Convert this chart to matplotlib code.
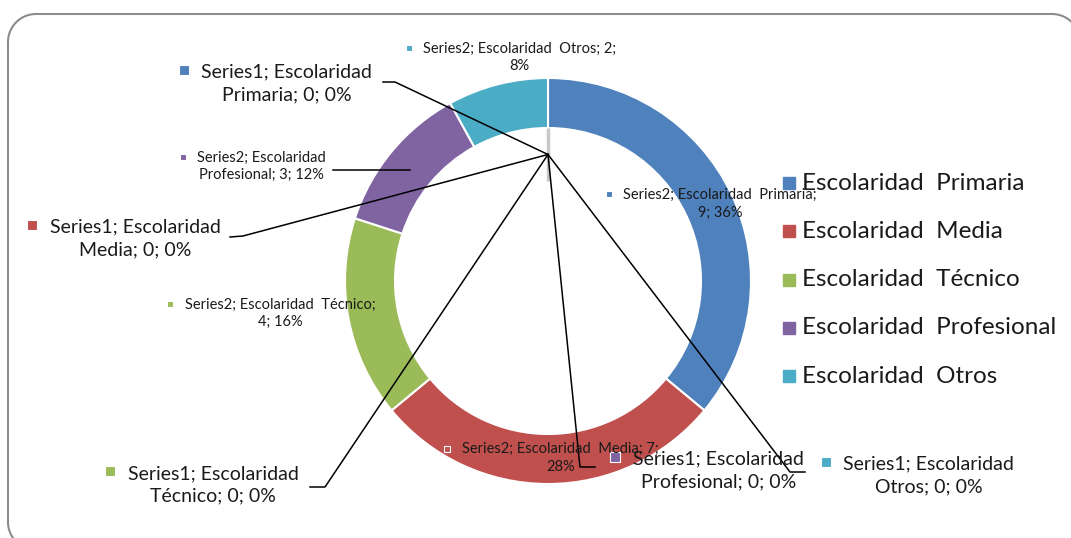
import numpy as np
import matplotlib.pyplot as plt

# datos del grafico
categorias = ['Primaria', 'Media', 'Técnico', 'Profesional', 'Otros']
series1 = [0, 0, 0, 0, 0]
series2 = [9, 7, 4, 3, 2]
colores = ['#4F81BD', '#C0504D', '#9BBB59', '#8064A2', '#4BACC6']

# posiciones de etiquetas (pixeles): cuadro x, cuadro y, x texto, y linea1, y linea2
pos_s1 = {
    'Primaria': (184, 70, 201, 70, 97),
    'Media': (32, 225, 50, 225, 252),
    'Técnico': (110, 471, 128, 471, 499),
    'Profesional': (615, 457, 633, 457, 484),
    'Otros': (826, 462, 843, 462, 489),
}
pos_s2 = {
    'Primaria': (609, 194, 623, 194, 214),
    'Media': (447, 449, 462, 449, 467),
    'Técnico': (170, 304, 185, 304, 323),
    'Profesional': (183, 157, 197, 157, 176),
    'Otros': (409, 48, 423, 48, 67),
}
# donde corta la linea cada etiqueta de Series2 (palabras en la primera linea)
corte_s2 = {'Primaria': 1, 'Media': 2, 'Técnico': 1, 'Profesional': 0, 'Otros': 2}

# colas de las lineas guia
colas_s1 = {
    'Primaria': [(383, 82), (395, 82)],
    'Media': [(230, 237), (243, 236)],
    'Técnico': [(310, 487), (325, 487)],
    'Profesional': [(595, 467), (580, 467)],
    'Otros': [(805, 472), (790, 472)],
}

plt.rcParams['font.family'] = ['Lato', 'DejaVu Sans']

W, H = 1071, 538
fig = plt.figure(figsize=(W / 100, H / 100), dpi=100)
ax = fig.add_axes([0, 0, 1, 1])

cx, cy, r_ext, ancho = 548, 281, 203, 50
r_int = r_ext - ancho

ax.pie(series2, colors=colores, radius=r_ext, center=(cx, cy), startangle=-90,
       counterclock=True, wedgeprops=dict(width=ancho, edgecolor='white', linewidth=1.5))

ax.set_xlim(0, W)
ax.set_ylim(H, 0)
ax.set_aspect('equal')
ax.axis('off')

# serie interior (todos cero): todas las cuñas en el mismo angulo
ang = np.deg2rad(-90 + 360 * np.cumsum([0] + series1[:-1]) / max(sum(series1), 1))
r_in0 = 100
ax.plot([cx + r_in0 * np.cos(ang[0]), cx + r_int * np.cos(ang[0])],
        [cy + r_in0 * np.sin(ang[0]), cy + r_int * np.sin(ang[0])],
        color='#c8c8c8', lw=2.5, solid_capstyle='butt', zorder=1)
r_mid = (r_in0 + r_int) / 2
ax0 = cx + r_mid * np.cos(ang[0])
ay0 = cy + r_mid * np.sin(ang[0])

total2 = sum(series2)
for i, cat in enumerate(categorias):
    # etiquetas Series1
    sx, sy, tx, y1, y2 = pos_s1[cat]
    ax.plot(sx, sy, marker='s', ms=7, color=colores[i], mec='white', mew=0.8, zorder=5)
    txt = f'Series1; Escolaridad\n{cat}; {series1[i]}; 0%'
    ax.text(tx, (y1 + y2) / 2, txt, ha='left', va='center', multialignment='center',
            fontsize=14, linespacing=1.4, color='#1a1a1a', zorder=6)
    (xa, ya), (xb, yb) = colas_s1[cat]
    ax.plot([xa, xb, ax0], [ya, yb, ay0], color='black', lw=1.1, zorder=4)

    # etiquetas Series2
    sx, sy, tx, y1, y2 = pos_s2[cat]
    pct = round(100 * series2[i] / total2)
    partes = [f'{cat};', f'{series2[i]};', f'{pct}%']
    k = corte_s2[cat]
    if k == 0:
        txt = f'Series2; Escolaridad\n' + ' '.join(partes)
    else:
        txt = 'Series2; Escolaridad  ' + ' '.join(partes[:k]) + '\n' + ' '.join(partes[k:])
    ax.plot(sx, sy, marker='s', ms=5, color=colores[i], mec='white', mew=0.8, zorder=5)
    ax.text(tx, (y1 + y2) / 2, txt, ha='left', va='center', multialignment='center',
            fontsize=10.5, linespacing=1.3, color='#1a1a1a', zorder=6)

# linea guia de la etiqueta Profesional (Series2)
ax.plot([333, 410], [170, 170], color='black', lw=1.1, zorder=4)

# leyenda
for i, cat in enumerate(categorias):
    ly = 183 + i * 48.3
    ax.plot(789, ly, marker='s', ms=9, color=colores[i], zorder=5)
    ax.text(802, ly, f'Escolaridad  {cat}', ha='left', va='center', fontsize=17.5,
            color='#1a1a1a', zorder=6)

# marco redondeado (dibujado a mano: esquinas con arcos)
x0, y0, x1, y1, rr = 8, 14, 1080, 550, 28
t = np.linspace(0, np.pi / 2, 20)
xs = np.concatenate([x0 + rr - rr * np.cos(t), x1 - rr + rr * np.sin(t),
                     x1 - rr + rr * np.cos(t), x0 + rr - rr * np.sin(t), [x0]])
ys = np.concatenate([y0 + rr - rr * np.sin(t), y0 + rr - rr * np.cos(t),
                     y1 - rr + rr * np.sin(t), y1 - rr + rr * np.cos(t), [y0 + rr]])
ax.plot(xs, ys, color='#8c8c8c', lw=1.5, clip_on=False)

plt.savefig('out.png', dpi=100)
